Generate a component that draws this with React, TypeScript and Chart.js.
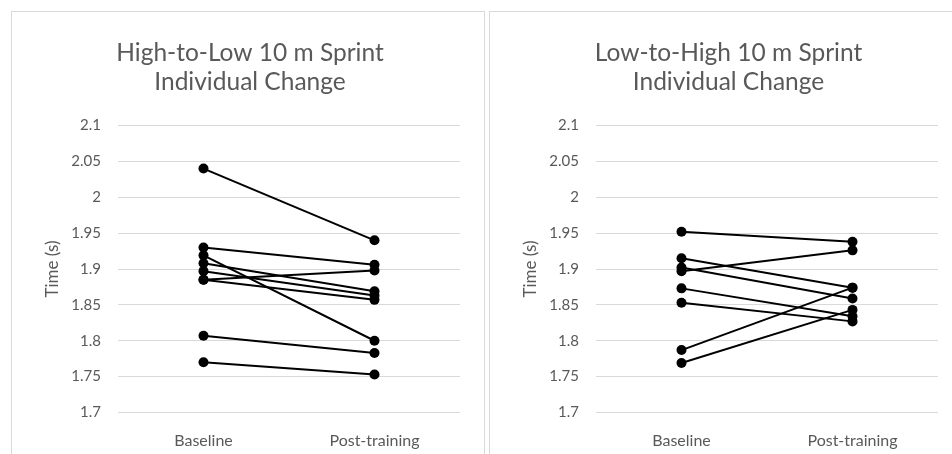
import React, { useEffect, useRef } from "react";
import { Chart, registerables } from "chart.js";

Chart.register(...registerables);

const categories = ["Baseline", "Post-training"];

const leftTitle = ["High-to-Low 10 m Sprint", "Individual Change"];
const rightTitle = ["Low-to-High 10 m Sprint", "Individual Change"];
const yAxisTitle = "Time (s)";

const yMin = 1.7;
const yMax = 2.1;
const yStep = 0.05;

const highToLowBaseline = [2.04, 1.93, 1.919, 1.908, 1.897, 1.885, 1.885, 1.807, 1.77];
const highToLowPost = [1.94, 1.906, 1.8, 1.869, 1.863, 1.898, 1.857, 1.783, 1.753];

const lowToHighBaseline = [1.952, 1.915, 1.902, 1.897, 1.873, 1.853, 1.787, 1.769];
const lowToHighPost = [1.938, 1.874, 1.859, 1.926, 1.834, 1.827, 1.874, 1.843];

const FONT = "Lato";
const GREY = "#595959";

function PanelChart(props: {
  title: string[];
  baseline: number[];
  post: number[];
  width: number;
  height: number;
  leftPad: number;
  rightPad: number;
}) {
  const ref = useRef<HTMLCanvasElement | null>(null);
  useEffect(() => {
    if (!ref.current) return;
    const datasets = props.baseline.map((b, i) => ({
      label: "Subject " + (i + 1),
      data: [b, props.post[i]],
      borderColor: "#000000",
      backgroundColor: "#000000",
      borderWidth: 2,
      pointRadius: 5,
      pointBorderWidth: 0,
      pointBackgroundColor: "#000000",
      tension: 0,
    }));
    const yTitleFont = 17;
    const yTitlePadTop = 41 - props.leftPad - (yTitleFont * 1.2) / 2;
    const chart = new Chart(ref.current, {
      type: "line",
      data: { labels: categories, datasets },
      options: {
        animation: false,
        responsive: false,
        layout: { padding: { left: props.leftPad, right: props.rightPad, top: 0, bottom: 0 } },
        plugins: {
          legend: { display: false },
          tooltip: { enabled: false },
          title: {
            display: true,
            text: props.title,
            color: GREY,
            font: { family: FONT, size: 24.5, weight: "normal", lineHeight: "29px" },
            padding: { top: 27, bottom: 28.5 },
          },
        },
        scales: {
          x: {
            type: "category",
            offset: true,
            grid: { display: false, drawTicks: false },
            border: { display: false },
            ticks: {
              color: GREY,
              font: { family: FONT, size: 16 },
              padding: 19,
              maxRotation: 0,
            },
            afterFit: (s: any) => {
              s.height = 41.5;
            },
          },
          y: {
            min: yMin,
            max: yMax,
            grid: { color: "#d9d9d9", lineWidth: 1, drawTicks: false },
            border: { display: false },
            ticks: {
              stepSize: yStep,
              color: GREY,
              font: { family: FONT, size: 15 },
              padding: 17,
              callback: (v: any) => String(parseFloat(Number(v).toFixed(2))),
            },
            title: {
              display: true,
              text: yAxisTitle,
              color: GREY,
              font: { family: FONT, size: yTitleFont },
              padding: { top: yTitlePadTop, bottom: 0 },
            },
            afterFit: (s: any) => {
              s.width = 106 - props.leftPad;
            },
          },
        },
      },
    } as any);
    return () => chart.destroy();
  }, []);
  return (
    <canvas
      ref={ref}
      width={props.width}
      height={props.height}
      style={{ width: props.width, height: props.height, display: "block" }}
    />
  );
}

export default function App() {
  return (
    <div
      style={{
        position: "absolute",
        left: 0,
        top: 0,
        width: 952,
        height: 454,
        overflow: "hidden",
        background: "#ffffff",
      }}
    >
      <div
        style={{
          position: "absolute",
          left: 11,
          top: 11,
          width: 472,
          height: 460,
          border: "1px solid #d9d9d9",
          background: "#fff",
        }}
      >
        <PanelChart title={leftTitle} baseline={highToLowBaseline} post={highToLowPost} width={472} height={442} leftPad={28} rightPad={24} />
      </div>
      <div
        style={{
          position: "absolute",
          left: 489,
          top: 11,
          width: 476,
          height: 460,
          border: "1px solid #d9d9d9",
          background: "#fff",
        }}
      >
        <PanelChart title={rightTitle} baseline={lowToHighBaseline} post={lowToHighPost} width={476} height={442} leftPad={29} rightPad={28} />
      </div>
    </div>
  );
}
